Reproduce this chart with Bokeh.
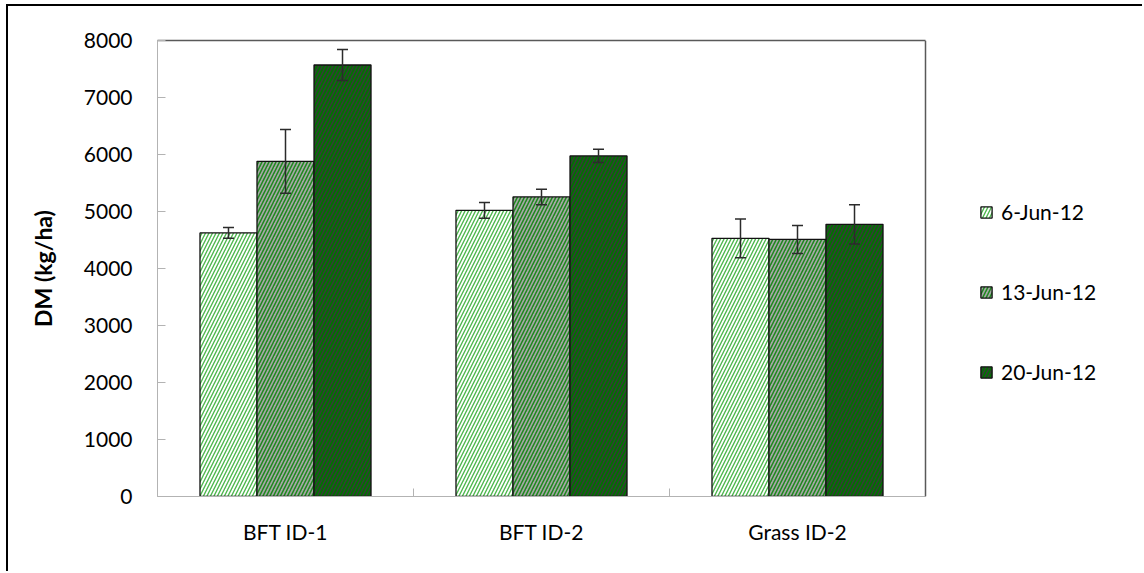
from bokeh.plotting import figure
from bokeh.models import (ColumnDataSource, FixedTicker, Whisker, TeeHead, Legend,
                          LegendItem, LinearAxis, Range1d, Span)
from bokeh.embed import file_html
from bokeh.resources import INLINE

# Dry matter yield (kg/ha) by stand and harvest date, with error bars
categories = ["BFT ID-1", "BFT ID-2", "Grass ID-2"]
dates = ["6-Jun-12", "13-Jun-12", "20-Jun-12"]
dm_6jun = [4625, 5020, 4530]
dm_13jun = [5880, 5255, 4510]
dm_20jun = [7570, 5975, 4775]
err_6jun = [95, 140, 340]
err_13jun = [560, 135, 245]
err_20jun = [270, 115, 345]
y_ticks = [0, 1000, 2000, 3000, 4000, 5000, 6000, 7000, 8000]

# (label, values, errors, background, stripe colour, stripe weight)
series = [
    (dates[0], dm_6jun, err_6jun, "#ffffff", "#4fb84f", 1.4),
    (dates[1], dm_13jun, err_13jun, "#a8a8a8", "#208820", 1.6),
    (dates[2], dm_20jun, err_20jun, "#383838", "#007200", 1.7),
]

FONT = "Lato"
bar_w = 0.2227
offsets = [-bar_w, 0.0, bar_w]

# canvas geometry: the bordered plot area covers 768 px of a 987 px wide frame,
# the remainder on the right holds the legend
n_cat = len(categories)
frame_px, area_px = 987, 768
x_end = n_cat * frame_px / area_px

p = figure(width=1136, height=567, output_backend="svg", toolbar_location=None,
           x_range=Range1d(0, x_end), y_range=Range1d(0, 8000),
           min_border_left=149, min_border_right=0, min_border_top=34,
           min_border_bottom=77)
p.styles = {"border-left": "2px solid #000000", "border-top": "2px solid #000000",
            "margin-left": "6px", "margin-top": "4px"}
p.outline_line_color = None
p.xgrid.visible = False
p.ygrid.visible = False
p.background_fill_color = "#ffffff"
p.border_fill_color = "#ffffff"

items = []
for (name, vals, errs, bg, stripe, weight), off in zip(series, offsets):
    xs = [i + 0.5 + off for i in range(n_cat)]
    src = ColumnDataSource(dict(x=xs, top=vals,
                                upper=[v + e for v, e in zip(vals, errs)],
                                lower=[v - e for v, e in zip(vals, errs)]))
    r = p.vbar(x="x", top="top", width=bar_w, bottom=0, source=src,
               fill_color=bg, line_color="#111111", line_width=1.3,
               hatch_pattern="/", hatch_color=stripe, hatch_scale=7,
               hatch_weight=weight)
    items.append(LegendItem(label=name, renderers=[r]))
    w = Whisker(source=src, base="x", upper="upper", lower="lower",
                line_color="#2b2b2b", line_width=1.5, level="overlay",
                upper_head=TeeHead(size=11, line_color="#2b2b2b", line_width=1.5),
                lower_head=TeeHead(size=11, line_color="#2b2b2b", line_width=1.5))
    p.add_layout(w)

# x axis: category names centred, short inside ticks at the group boundaries
xa = p.xaxis[0]
xa.bounds = (0, n_cat)
xa.ticker = FixedTicker(ticks=[i + 0.5 for i in range(n_cat)],
                        minor_ticks=list(range(n_cat + 1)))
xa.major_label_overrides = {i + 0.5: c for i, c in enumerate(categories)}
xa.major_tick_in = 0
xa.major_tick_out = 0
xa.minor_tick_in = 8
xa.minor_tick_out = 0
xa.minor_tick_line_color = "#b3b3b3"
xa.axis_line_color = "#b3b3b3"
xa.major_label_text_font = FONT
xa.major_label_text_font_size = "21px"
xa.major_label_text_color = "#000000"
xa.major_label_standoff = 22

ya = p.yaxis[0]
ya.ticker = FixedTicker(ticks=y_ticks)
ya.major_tick_in = 8
ya.major_tick_out = 0
ya.minor_tick_line_color = None
ya.major_tick_line_color = "#b3b3b3"
ya.axis_line_color = "#b3b3b3"
ya.major_label_text_font = FONT
ya.major_label_text_font_size = "21px"
ya.major_label_text_color = "#000000"
ya.major_label_standoff = 25
ya.axis_label = "DM (kg/ha)"
ya.axis_label_text_font = FONT
ya.axis_label_text_font_size = "23px"
ya.axis_label_text_font_style = "bold"
ya.axis_label_text_color = "#000000"
ya.axis_label_standoff = 24

# darker edges along the top and right of the plot area
top_edge = LinearAxis(ticker=FixedTicker(ticks=[]), bounds=(0, n_cat),
                      axis_line_color="#595959", axis_line_width=1.5,
                      major_label_text_font_size="0px",
                      major_tick_line_color=None, minor_tick_line_color=None)
p.add_layout(top_edge, "above")
p.add_layout(Span(location=n_cat, dimension="height", line_color="#595959",
                  line_width=1.5))

legend = Legend(items=items, location=(822, 112), orientation="vertical",
                glyph_width=14, glyph_height=14, label_standoff=8, spacing=55,
                padding=0, margin=0, border_line_color=None,
                background_fill_alpha=0, label_text_font=FONT,
                label_text_font_size="21px", label_text_color="#000000",
                label_height=20)
p.add_layout(legend)

open("out.html", "w").write(file_html(p, INLINE))
